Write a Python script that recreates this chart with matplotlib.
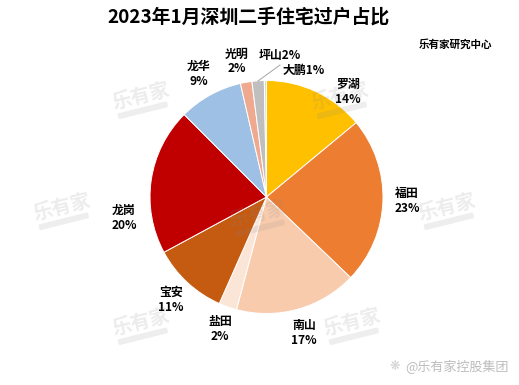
import matplotlib
matplotlib.use("Agg")
import matplotlib.pyplot as plt
from matplotlib.patches import FancyBboxPatch
from matplotlib.transforms import Affine2D

plt.rcParams['font.family'] = ['Noto Sans CJK SC', 'DejaVu Sans']

districts = ['罗湖', '福田', '南山', '盐田', '宝安', '龙岗', '龙华', '光明', '坪山', '大鹏']
shares = [14.0, 23.2, 17.0, 2.5, 10.5, 20.4, 8.9, 1.6, 1.7, 0.3]
share_labels = ['14%', '23%', '17%', '2%', '11%', '20%', '9%', '2%', '2%', '1%']
title = '2023年1月深圳二手住宅过户占比'
source = '乐有家研究中心'
credit = '@乐有家控股集团'
watermark = '乐有家'

colors = ['#FFC000', '#ED7D31', '#F8CBAD', '#FBE5D6', '#C55A11',
          '#C00000', '#9DC0E4', '#EFA98F', '#BFBFBF', '#D9D9D9']

W, H = 519, 385
fig = plt.figure(figsize=(W / 100, H / 100), dpi=100, facecolor='white')
ax = fig.add_axes([0, 0, 1, 1])

def Y(py):
    return H - py

ax.pie(shares, colors=colors, startangle=90, counterclock=False,
       center=(266.5, Y(197)), radius=116.5, frame=True,
       wedgeprops=dict(edgecolor='white', linewidth=0.7))
ax.set_xlim(0, W)
ax.set_ylim(0, H)
ax.set_aspect('equal')
ax.axis('off')

ax.text(249, Y(17), title, fontsize=13.6, fontweight='bold', ha='center', va='center', color='black')
ax.text(455, Y(45), source, fontsize=7.6, fontweight='bold', ha='center', va='center', color='black')

# two-line labels: (x centre, y centre) in pixels
two_line_pos = {'罗湖': (348, 92), '福田': (407, 201.5), '南山': (304, 333),
                '盐田': (220, 329), '宝安': (171, 300), '龙岗': (124, 218),
                '龙华': (199, 74), '光明': (237, 61.5)}
for name, share in zip(districts, share_labels):
    if name in two_line_pos:
        x, y = two_line_pos[name]
        ax.text(x, Y(y - 7.5), name, fontsize=8.6, fontweight='bold', ha='center', va='center', color='black')
        ax.text(x, Y(y + 7.5), share, fontsize=8.6, fontweight='bold', ha='center', va='center', color='black')

ax.text(280, Y(56), districts[8] + share_labels[8], fontsize=8.6, fontweight='bold', ha='center', va='center')
ax.text(304, Y(70), districts[9] + share_labels[9], fontsize=8.6, fontweight='bold', ha='center', va='center')
ax.plot([258, 280], [Y(81), Y(65)], color='#A6A6A6', lw=0.7)

# watermarks
for cx, cy in [(141, 103), (340, 103), (62, 214), (258, 221), (447, 214), (141, 329), (352, 329)]:
    rot = Affine2D().rotate_deg_around(cx, Y(cy), 14) + ax.transData
    ax.text(cx, Y(cy - 6), watermark, fontsize=14, fontweight='bold', ha='center', va='center',
            color='#888888', alpha=0.16, rotation=14, rotation_mode='anchor', zorder=5)
    pill = FancyBboxPatch((cx - 24, Y(cy + 9)), 48, 3, boxstyle='round,pad=1.5',
                          fc='#888888', ec='none', alpha=0.14, transform=rot, zorder=5)
    ax.add_patch(pill)

ax.text(395, Y(367), '❋', fontsize=9, ha='center', va='center', color='#D0D0D0', zorder=5)
ax.text(457, Y(367), credit, fontsize=9.4, ha='center', va='center', color='#BDBDBD', zorder=5)
fig.savefig('out.png', dpi=100, facecolor='white')
